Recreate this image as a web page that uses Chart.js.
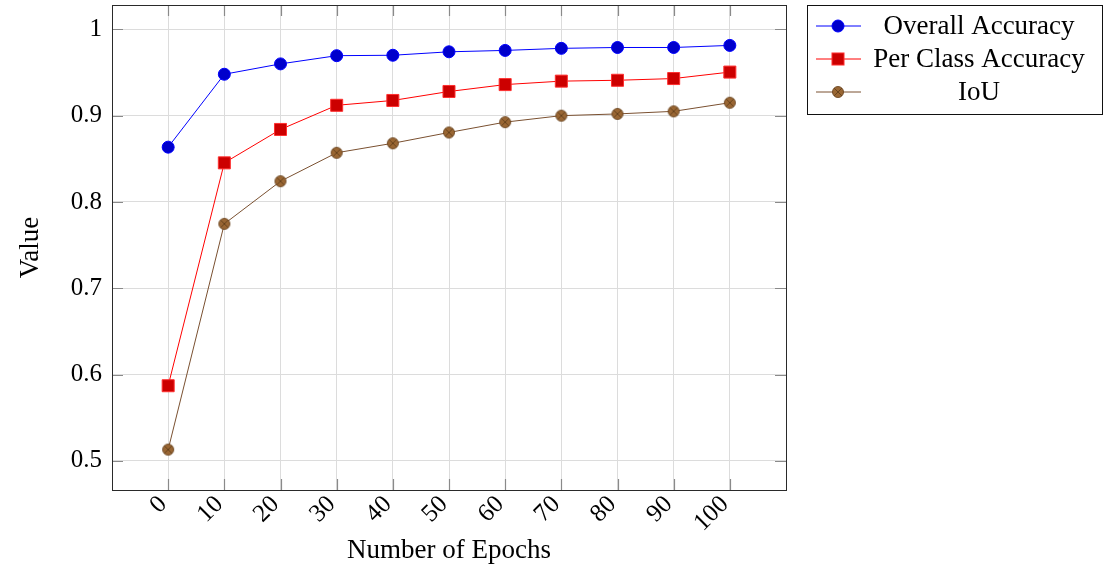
<!DOCTYPE html>
<html>
<head>
<meta charset="utf-8">
<title>Accuracy vs Epochs</title>
<script src="https://cdn.jsdelivr.net/npm/chart.js@4.4.1/dist/chart.umd.min.js"></script>
<style>
  html, body { margin: 0; padding: 0; background: #fff; }
  #wrap { width: 1106px; height: 565px; }
</style>
</head>
<body>
<div id="wrap"><canvas id="chart" width="1106" height="565"></canvas></div>
<script>
"use strict";

// Data
const epochs = [0, 10, 20, 30, 40, 50, 60, 70, 80, 90, 100];
const overallAccuracy = [0.8635, 0.948, 0.960, 0.9695, 0.970, 0.974, 0.9756, 0.978, 0.979, 0.979, 0.9814];
const perClassAccuracy = [0.587, 0.8453, 0.884, 0.912, 0.9176, 0.928, 0.936, 0.940, 0.941, 0.943, 0.9505];
const iouValues = [0.513, 0.7746, 0.824, 0.857, 0.868, 0.8805, 0.8925, 0.900, 0.902, 0.905, 0.915];
const yTickValues = [0.5, 0.6, 0.7, 0.8, 0.9, 1.0];
const seriesLabels = ["Overall Accuracy", "Per Class Accuracy", "IoU"];

const SERIF = "'Liberation Serif', 'DejaVu Serif', serif";

// pgfplots style axis limits: 10% enlargement of data range
function enlarged(values) {
  const lo = Math.min(...values);
  const hi = Math.max(...values);
  const pad = (hi - lo) * 0.1;
  return { min: lo - pad, max: hi + pad };
}

const xLim = enlarged(epochs);
const yLim = enlarged(overallAccuracy.concat(perClassAccuracy, iouValues));

// Brown circle with a cross (otimes*)
function makeOtimesMarker() {
  const c = document.createElement("canvas");
  c.width = 14;
  c.height = 14;
  const g = c.getContext("2d");
  const r = 5.5;
  g.beginPath();
  g.arc(7, 7, r, 0, Math.PI * 2);
  g.fillStyle = "#996633";
  g.fill();
  g.lineWidth = 0.9;
  g.strokeStyle = "#6b4520";
  g.stroke();
  const d = r * 0.7;
  g.beginPath();
  g.moveTo(7 - d, 7 - d);
  g.lineTo(7 + d, 7 + d);
  g.moveTo(7 + d, 7 - d);
  g.lineTo(7 - d, 7 + d);
  g.lineWidth = 0.8;
  g.strokeStyle = "#5a3a18";
  g.stroke();
  return c;
}

const otimes = makeOtimesMarker();

function toPoints(values) {
  return values.map((v, i) => ({ x: epochs[i], y: v }));
}

/**
 * Inward tick marks on all four sides of the plot box
 */
const innerTicks = {
  id: "innerTicks",
  afterDatasetsDraw(chart) {
    const { ctx, chartArea: a, scales } = chart;
    const len = 11;
    ctx.save();
    ctx.strokeStyle = "#8a8a8a";
    ctx.lineWidth = 1.2;
    ctx.beginPath();
    scales.x.ticks.forEach((t) => {
      const px = Math.round(scales.x.getPixelForValue(t.value)) + 0.5;
      ctx.moveTo(px, a.bottom);
      ctx.lineTo(px, a.bottom - len);
      ctx.moveTo(px, a.top);
      ctx.lineTo(px, a.top + len);
    });
    scales.y.ticks.forEach((t) => {
      const py = Math.round(scales.y.getPixelForValue(t.value)) + 0.5;
      ctx.moveTo(a.left, py);
      ctx.lineTo(a.left + len, py);
      ctx.moveTo(a.right, py);
      ctx.lineTo(a.right - len, py);
    });
    ctx.stroke();
    // frame
    ctx.strokeStyle = "#2a2a2a";
    ctx.lineWidth = 1;
    ctx.strokeRect(Math.round(a.left) + 0.5, Math.round(a.top) + 0.5,
      Math.round(a.right - a.left), Math.round(a.bottom - a.top));
    ctx.restore();
  },
};

/**
 * Boxed legend to the right of the plot, pgfplots style
 */
const boxLegend = {
  id: "boxLegend",
  afterDraw(chart) {
    const { ctx } = chart;
    const box = { x: 807.5, y: 5.5, w: 295, h: 109 };
    const rowY = [26, 59, 92];
    ctx.save();
    ctx.fillStyle = "#fff";
    ctx.fillRect(box.x, box.y, box.w, box.h);
    ctx.strokeStyle = "#111";
    ctx.lineWidth = 1;
    ctx.strokeRect(box.x, box.y, box.w, box.h);

    chart.data.datasets.forEach((ds, i) => {
      const y = rowY[i];
      ctx.beginPath();
      ctx.moveTo(816, y);
      ctx.lineTo(861, y);
      ctx.strokeStyle = ds.borderColor;
      ctx.lineWidth = 1;
      ctx.stroke();

      const cx = 838;
      if (ds.pointStyle === "circle") {
        ctx.beginPath();
        ctx.arc(cx, y, ds.pointRadius, 0, Math.PI * 2);
        ctx.fillStyle = ds.pointBackgroundColor;
        ctx.fill();
        ctx.strokeStyle = ds.pointBorderColor;
        ctx.stroke();
      } else if (ds.pointStyle === "rect") {
        const s = Math.SQRT1_2 * ds.pointRadius;
        ctx.fillStyle = ds.pointBackgroundColor;
        ctx.fillRect(cx - s, y - s, 2 * s, 2 * s);
        ctx.strokeStyle = ds.pointBorderColor;
        ctx.strokeRect(cx - s, y - s, 2 * s, 2 * s);
      } else {
        ctx.drawImage(ds.pointStyle, cx - 7, y - 7);
      }

      ctx.fillStyle = "#000";
      ctx.font = "27px " + SERIF;
      ctx.textAlign = "center";
      ctx.textBaseline = "middle";
      ctx.fillText(ds.label, 979, y + 1);
    });
    ctx.restore();
  },
};

new Chart(document.getElementById("chart").getContext("2d"), {
  type: "line",
  data: {
    datasets: [
      {
        label: seriesLabels[0],
        data: toPoints(overallAccuracy),
        borderColor: "#0000ff",
        borderWidth: 1,
        pointStyle: "circle",
        pointRadius: 6,
        pointBackgroundColor: "#0000cc",
        pointBorderColor: "#0000ff",
        pointBorderWidth: 1,
        tension: 0,
        fill: false,
      },
      {
        label: seriesLabels[1],
        data: toPoints(perClassAccuracy),
        borderColor: "#ff0000",
        borderWidth: 1,
        pointStyle: "rect",
        pointRadius: 8.5,
        pointBackgroundColor: "#cc0000",
        pointBorderColor: "#ff3030",
        pointBorderWidth: 1,
        tension: 0,
        fill: false,
      },
      {
        label: seriesLabels[2],
        data: toPoints(iouValues),
        borderColor: "#7a5030",
        borderWidth: 1,
        pointStyle: otimes,
        pointRadius: 6,
        tension: 0,
        fill: false,
      },
    ],
  },
  options: {
    responsive: false,
    devicePixelRatio: 1,
    animation: false,
    parsing: false,
    layout: {
      autoPadding: false,
      padding: { left: 0, right: 320, top: 5, bottom: 0 },
    },
    plugins: {
      legend: { display: false },
      tooltip: { enabled: false },
    },
    scales: {
      x: {
        type: "linear",
        min: xLim.min,
        max: xLim.max,
        afterBuildTicks: (scale) => {
          scale.ticks = epochs.map((v) => ({ value: v }));
        },
        afterFit: (scale) => {
          scale.height = 75;
          scale.paddingLeft = 0;
          scale.paddingRight = 0;
        },
        grid: { color: "#dcdcdc", drawTicks: false },
        border: { display: false },
        ticks: {
          autoSkip: false,
          minRotation: 45,
          maxRotation: 45,
          padding: 0,
          labelOffset: -5,
          color: "#000",
          font: { family: SERIF, size: 25 },
          callback: (v) => String(v),
        },
        title: {
          display: true,
          text: "Number of Epochs",
          color: "#000",
          font: { family: SERIF, size: 27, lineHeight: 1 },
          padding: { top: 0, bottom: 1 },
        },
      },
      y: {
        type: "linear",
        min: yLim.min,
        max: yLim.max,
        afterBuildTicks: (scale) => {
          scale.ticks = yTickValues.map((v) => ({ value: v }));
        },
        afterFit: (scale) => {
          scale.width = 112;
          scale.paddingTop = 0;
          scale.paddingBottom = 0;
        },
        grid: { color: "#dcdcdc", drawTicks: false },
        border: { display: false },
        ticks: {
          padding: 10,
          color: "#000",
          font: { family: SERIF, size: 25 },
          callback: (v) => (v === 1 ? "1" : v.toFixed(1)),
        },
        title: {
          display: true,
          text: "Value",
          color: "#000",
          font: { family: SERIF, size: 27, lineHeight: 1 },
          padding: { top: 17, bottom: 0 },
        },
      },
    },
  },
  plugins: [innerTicks, boxLegend],
});
</script>
</body>
</html>
